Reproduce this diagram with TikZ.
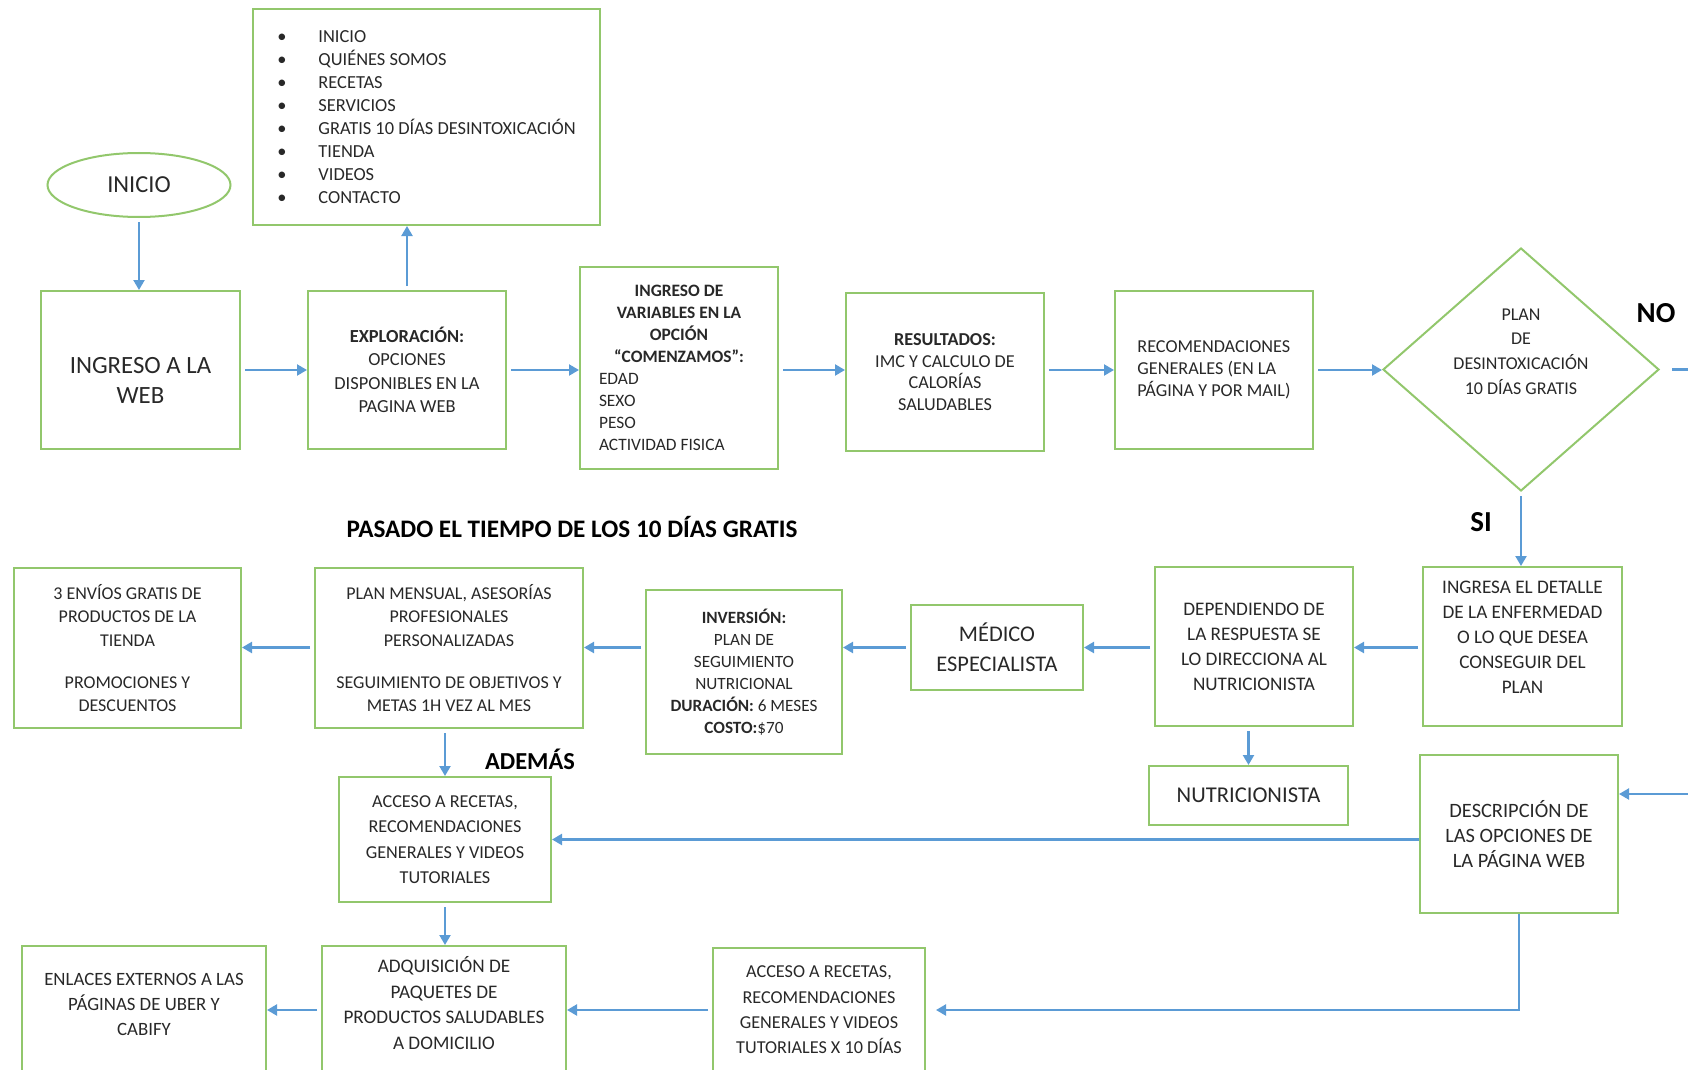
\documentclass[tikz,border=0pt]{standalone}
\usepackage{fontspec}
\setmainfont{Carlito}
\usepackage{tikz}
\usetikzlibrary{arrows.meta, positioning, shapes.geometric}
\definecolor{verdecaja}{RGB}{146,199,108}
\definecolor{azulflecha}{RGB}{91,155,213}
\definecolor{textogris}{RGB}{40,40,40}

\begin{document}
\begin{tikzpicture}[
    x=0.5pt, y=-0.5pt,
    >={Triangle[length=5pt,width=5.5pt]},
    % Estilos de las cajas del flujo
    box_node/.style={rectangle, draw=verdecaja, line width=1pt, align=center, text=textogris, inner sep=2pt, font=\fontsize{9}{11.5}\selectfont},
    start_node/.style={ellipse, draw=verdecaja, line width=1pt, text=textogris, minimum width=91.5pt, minimum height=32pt, font=\fontsize{12.2}{15}\selectfont},
    decision_node/.style={diamond, draw=verdecaja, line width=1pt, minimum width=138pt, minimum height=121.5pt, inner sep=0pt},
    % Flechas y etiquetas
    flow_arrow/.style={->, draw=azulflecha, line width=1.1pt, shorten <=2pt},
    heading_label/.style={font=\bfseries\fontsize{12.6}{14}\selectfont, text=black},
    answer_label/.style={font=\bfseries\fontsize{14.5}{17}\selectfont, text=black}
]
    \useasboundingbox (0,0) rectangle (1688,1070);

    % --- 1. FILA SUPERIOR ---
    \node[start_node] (inicio) at (139,185) {INICIO};
    \node[box_node, minimum width=99.5pt, minimum height=79pt, text height=33pt, font=\fontsize{12.4}{15}\selectfont] (ingreso) at (140.5,370) {INGRESO A LA\\WEB};
    \node[box_node, minimum width=99pt, minimum height=79pt, font=\fontsize{9.2}{11.7}\selectfont] (explora) at (407,370) {\textbf{EXPLORACIÓN:}\\OPCIONES\\DISPONIBLES EN LA\\PAGINA WEB};
    \node[box_node, align=left, minimum width=173.5pt, minimum height=108pt, font=\fontsize{9.2}{11.5}\selectfont] (menu) at (426.5,117) {%
        •\hspace{16pt}INICIO\\
        •\hspace{16pt}QUIÉNES SOMOS\\
        •\hspace{16pt}RECETAS\\
        •\hspace{16pt}SERVICIOS\\
        •\hspace{16pt}GRATIS 10 DÍAS DESINTOXICACIÓN\\
        •\hspace{16pt}TIENDA\\
        •\hspace{16pt}VIDEOS\\
        •\hspace{16pt}CONTACTO};
    \node[box_node, minimum width=99pt, minimum height=101pt, font=\fontsize{8.7}{11}\selectfont] (variables) at (679,368) {%
        \textbf{INGRESO DE}\\\textbf{VARIABLES EN LA}\\\textbf{OPCIÓN}\\\textbf{“COMENZAMOS”:}\\
        \makebox[80pt][l]{EDAD}\\\makebox[80pt][l]{SEXO}\\\makebox[80pt][l]{PESO}\\\makebox[80pt][l]{ACTIVIDAD FISICA}};
    \node[box_node, minimum width=99pt, minimum height=79pt, font=\fontsize{9.1}{10.8}\selectfont] (result) at (945,372) {\textbf{RESULTADOS:}\\IMC Y CALCULO DE\\CALORÍAS\\SALUDABLES};
    \node[box_node, align=left, minimum width=99pt, minimum height=79pt, font=\fontsize{9.1}{11}\selectfont] (recomienda) at (1214,370) {RECOMENDACIONES\\GENERALES (EN LA\\PÁGINA Y POR MAIL)};
    \node[decision_node] (plan) at (1521,369.5) {};
    \node[font=\fontsize{9}{12.4}\selectfont, text=textogris, align=center] (plan_txt) at (1521,351.5) {PLAN\\DE\\DESINTOXICACIÓN\\10 DÍAS GRATIS};
    \node[answer_label] (no_lbl) at (1656,313) {NO};
    \node[answer_label] (si_lbl) at (1481,522) {SI};
    \coordinate (no_fin) at (1700,369.5);

    % --- 2. SEGUNDA FILA (DE DERECHA A IZQUIERDA) ---
    \node[heading_label] (pasado_lbl) at (572,527) {PASADO EL TIEMPO DE LOS 10 DÍAS GRATIS};
    \node[box_node, minimum width=99.5pt, minimum height=79.5pt, text depth=9pt, font=\fontsize{9.6}{12.5}\selectfont] (detalle) at (1522.5,646.5) {INGRESA EL DETALLE\\DE LA ENFERMEDAD\\O LO QUE DESEA\\CONSEGUIR DEL\\PLAN};
    \node[box_node, minimum width=99pt, minimum height=79.5pt, font=\fontsize{9.6}{12.5}\selectfont] (depende) at (1254,646.5) {DEPENDIENDO DE\\LA RESPUESTA SE\\LO DIRECCIONA AL\\NUTRICIONISTA};
    \node[box_node, minimum width=86pt, minimum height=42.5pt, font=\fontsize{11.2}{15}\selectfont] (medico) at (997,647.5) {MÉDICO\\ESPECIALISTA};
    \node[box_node, minimum width=98pt, minimum height=82pt, font=\fontsize{8.6}{11}\selectfont] (inversion) at (744,672) {\textbf{INVERSIÓN:}\\PLAN DE\\SEGUIMIENTO\\NUTRICIONAL\\\textbf{DURACIÓN:} 6 MESES\\\textbf{COSTO:}\$70};
    \node[box_node, minimum width=134pt, minimum height=80pt, font=\fontsize{9}{11.8}\selectfont] (mensual) at (449,648) {PLAN MENSUAL, ASESORÍAS\\PROFESIONALES\\PERSONALIZADAS\\[9pt]SEGUIMIENTO DE OBJETIVOS Y\\METAS 1H VEZ AL MES};
    \node[box_node, minimum width=113.5pt, minimum height=80pt, font=\fontsize{9}{11.8}\selectfont] (envios) at (127.5,648) {3 ENVÍOS GRATIS DE\\PRODUCTOS DE LA\\TIENDA\\[9pt]PROMOCIONES Y\\DESCUENTOS};

    % --- 3. TERCERA FILA ---
    \node[heading_label, font=\bfseries\fontsize{12.2}{14}\selectfont] (ademas_lbl) at (530,759) {ADEMÁS};
    \node[box_node, minimum width=99.5pt, minimum height=29.5pt, font=\fontsize{11.3}{14}\selectfont] (nutri) at (1248.5,795.5) {NUTRICIONISTA};
    \node[box_node, minimum width=99pt, minimum height=79pt, font=\fontsize{10.2}{12.4}\selectfont] (descrip) at (1519,834) {DESCRIPCIÓN DE\\LAS OPCIONES DE\\LA PÁGINA WEB};
    \coordinate (descrip_in) at (1700,794);
    \node[box_node, minimum width=106pt, minimum height=62.5pt, font=\fontsize{9.1}{12.7}\selectfont] (acceso) at (445,839.5) {ACCESO A RECETAS,\\RECOMENDACIONES\\GENERALES Y VIDEOS\\TUTORIALES};

    % --- 4. FILA INFERIOR (CORTADA POR EL BORDE) ---
    \node[box_node, minimum width=122pt, minimum height=64pt, text depth=7pt, font=\fontsize{9.6}{12.7}\selectfont] (adquiere) at (444,1010) {ADQUISICIÓN DE\\PAQUETES DE\\PRODUCTOS SALUDABLES\\A DOMICILIO};
    \node[box_node, minimum width=122pt, minimum height=64pt, text depth=6pt, font=\fontsize{9.4}{12.5}\selectfont] (enlaces) at (144,1010) {ENLACES EXTERNOS A LAS\\PÁGINAS DE UBER Y\\CABIFY};
    \node[box_node, minimum width=106pt, minimum height=62pt, font=\fontsize{9.1}{12.7}\selectfont] (acceso_diez) at (819,1010) {ACCESO A RECETAS,\\RECOMENDACIONES\\GENERALES Y VIDEOS\\TUTORIALES X 10 DÍAS};

    % --- 5. CONEXIONES ---
    \draw[flow_arrow] (inicio.south) -- (inicio.south |- ingreso.north);
    \draw[flow_arrow] (explora.north) -- (explora.north |- menu.south);
    \foreach \a/\b in {ingreso/explora, explora/variables, variables/result, result/recomienda, recomienda/plan} {
        \draw[flow_arrow] (\a.east |- ingreso.east) -- (\b.west |- ingreso.east);
    }
    \draw[flow_arrow, shorten <=6pt] (plan.east) -- (no_fin);
    \draw[flow_arrow] (plan.south) -- (plan.south |- detalle.north);
    \foreach \a/\b in {detalle/depende, depende/medico, medico/inversion, inversion/mensual, mensual/envios} {
        \draw[flow_arrow] (\a.west |- medico.west) -- (\b.east |- medico.west);
    }
    \draw[flow_arrow] (nutri.north |- depende.south) -- (nutri.north);
    \draw[flow_arrow] (acceso.north |- mensual.south) -- (acceso.north);
    \draw[flow_arrow] (descrip_in) -- (descrip.east |- descrip_in);
    \draw[flow_arrow, shorten <=0pt] (descrip.west |- acceso.east) -- (acceso.east);
    \draw[flow_arrow, shorten <=0pt, shorten >=5pt] (descrip.south) |- (acceso_diez.east);
    \draw[flow_arrow] (acceso.south) -- (acceso.south |- adquiere.north);
    \draw[flow_arrow] (acceso_diez.west) -- (adquiere.east);
    \draw[flow_arrow] (adquiere.west) -- (enlaces.east);

\end{tikzpicture}
\end{document}
